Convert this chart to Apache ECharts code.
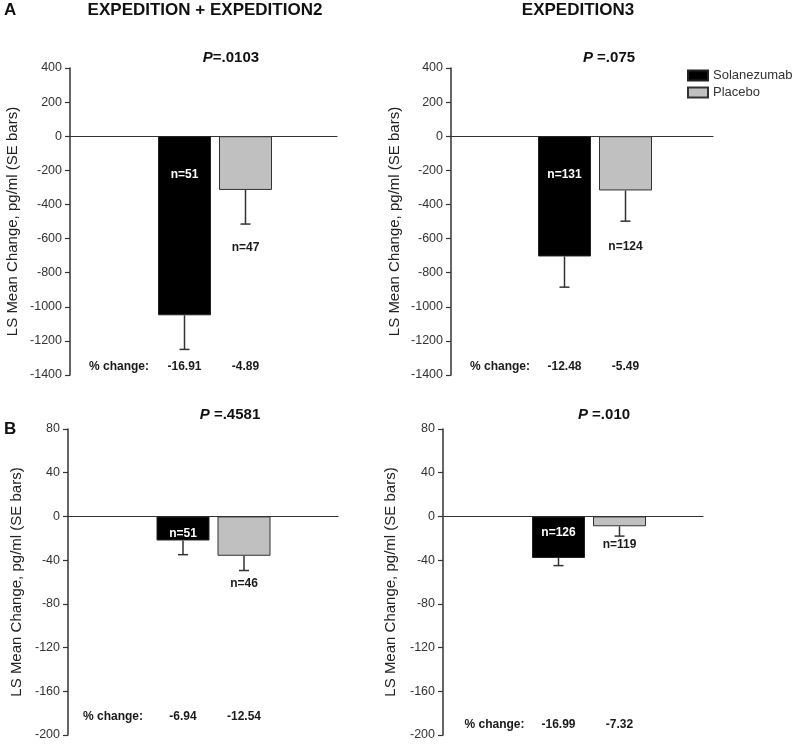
<!DOCTYPE html>
<html><head><meta charset="utf-8">
<script src="https://cdn.jsdelivr.net/npm/echarts@6/dist/echarts.min.js"></script>
<style>html,body{margin:0;padding:0;background:#fff}#c{width:797px;height:745px}</style>
</head><body><div id="c"></div>
<script>
// ---------- data ----------
const categories = ['Solanezumab', 'Placebo'];
const sectionTitles = ['EXPEDITION + EXPEDITION2', 'EXPEDITION3'];
const panelLetters = ['A', 'B'];
const yAxisName = 'LS Mean Change, pg/ml (SE bars)';
const ticksA = [-1400, -1200, -1000, -800, -600, -400, -200, 0, 200, 400];
const ticksB = [-200, -160, -120, -80, -40, 0, 40, 80];
const pctHeader = '% change:';

// Panel A, EXPEDITION + EXPEDITION2
const meansA1 = [-1050, -315];
const seA1 = [200, 200];
const nA1 = [51, 47];
const pctA1 = ['-16.91', '-4.89'];
const pA1 = '=.0103';
// Panel A, EXPEDITION3
const meansA2 = [-705, -318];
const seA2 = [180, 180];
const nA2 = [131, 124];
const pctA2 = ['-12.48', '-5.49'];
const pA2 = ' =.075';
// Panel B, EXPEDITION + EXPEDITION2
const meansB1 = [-22, -36];
const seB1 = [13, 13.5];
const nB1 = [51, 46];
const pctB1 = ['-6.94', '-12.54'];
const pB1 = ' =.4581';
// Panel B, EXPEDITION3
const meansB2 = [-38, -9];
const seB2 = [7, 9];
const nB2 = [126, 119];
const pctB2 = ['-16.99', '-7.32'];
const pB2 = ' =.010';

// ---------- layout / style ----------
const FONT = '"Liberation Sans", Arial, Helvetica, sans-serif';
const panels = [
  {ticks: ticksA, means: meansA1, se: seA1, n: nA1, pct: pctA1, p: pA1,
   axisX: 70, zeroEnd: 337, top: 68, bottom: 375, barLeft: 154, nameGap: 50,
   nIn: 38, nBelow: 24, pctUp: 8, headerX: 119, pX: 231, pY: 50},
  {ticks: ticksA, means: meansA2, se: seA2, n: nA2, pct: pctA2, p: pA2,
   axisX: 451, zeroEnd: 713, top: 68, bottom: 375, barLeft: 534, nameGap: 49,
   nIn: 38, nBelow: 26, pctUp: 8, headerX: 500, pX: 609, pY: 50},
  {ticks: ticksB, means: meansB1, se: seB1, n: nB1, pct: pctB1, p: pB1,
   axisX: 68, zeroEnd: 338, top: 429, bottom: 735, barLeft: 152.5, nameGap: 44,
   nIn: 17, nBelow: 13, pctUp: 18, headerX: 113, pX: 230, pY: 407},
  {ticks: ticksB, means: meansB2, se: seB2, n: nB2, pct: pctB2, p: pB2,
   axisX: 443, zeroEnd: 703, top: 429, bottom: 735, barLeft: 528, nameGap: 45,
   nIn: 16, nBelow: 9, pctUp: 10, headerX: 494.5, pX: 604, pY: 407}
];
const BAR_W = 53, CAT_W = 61;

const grid = [], xAxis = [], yAxis = [], series = [], title = [], graphic = [];

title.push({text: panelLetters[0], left: 4, top: 2, padding: 0,
  textStyle: {fontSize: 17, fontWeight: 'bold', color: '#111', fontFamily: FONT}});
title.push({text: panelLetters[1], left: 4, top: 421, padding: 0,
  textStyle: {fontSize: 17, fontWeight: 'bold', color: '#111', fontFamily: FONT}});
title.push({text: sectionTitles[0], left: 205, top: 2, padding: 0, textAlign: 'center',
  textStyle: {fontSize: 17, fontWeight: 'bold', color: '#111', fontFamily: FONT}});
title.push({text: sectionTitles[1], left: 578, top: 2, padding: 0, textAlign: 'center',
  textStyle: {fontSize: 17, fontWeight: 'bold', color: '#111', fontFamily: FONT}});

panels.forEach((L, i) => {
  const yMin = L.ticks[0], yMax = L.ticks[L.ticks.length - 1];
  const interval = L.ticks[1] - L.ticks[0];
  const h = L.bottom - L.top;
  // frame grid (axis + zero line)
  grid.push({left: L.axisX, top: L.top, width: L.zeroEnd - L.axisX, height: h});
  // bars grid
  grid.push({left: L.barLeft, top: L.top, width: CAT_W * categories.length, height: h});
  xAxis.push({gridIndex: 2 * i, type: 'category', data: [''],
    axisLine: {show: true, onZero: true, lineStyle: {color: '#333', width: 1.2}},
    axisTick: {show: false}, axisLabel: {show: false}, splitLine: {show: false}});
  xAxis.push({gridIndex: 2 * i + 1, type: 'category', data: categories, show: false});
  yAxis.push({gridIndex: 2 * i, type: 'value', min: yMin, max: yMax, interval: interval,
    name: yAxisName, nameLocation: 'middle', nameGap: L.nameGap,
    nameTextStyle: {fontSize: 15, color: '#222', fontFamily: FONT},
    axisLine: {show: true, lineStyle: {color: '#333', width: 1.5}},
    axisTick: {show: true, length: 5, lineStyle: {color: '#333', width: 1.2}},
    axisLabel: {fontSize: 12.5, color: '#333', margin: 8, fontFamily: FONT,
      formatter: v => String(v)},
    splitLine: {show: false}});
  yAxis.push({gridIndex: 2 * i + 1, type: 'value', min: yMin, max: yMax, show: false});

  series.push({name: categories[0], type: 'bar', xAxisIndex: 2 * i + 1, yAxisIndex: 2 * i + 1,
    data: [L.means[0], '-'], barWidth: BAR_W, barGap: '-100%', z: 2,
    itemStyle: {color: '#000', borderColor: '#222', borderWidth: 1}});
  series.push({name: categories[1], type: 'bar', xAxisIndex: 2 * i + 1, yAxisIndex: 2 * i + 1,
    data: ['-', L.means[1]], barWidth: BAR_W, barGap: '-100%', z: 2,
    itemStyle: {color: '#c0c0c0', borderColor: '#333', borderWidth: 1}});
  series.push({type: 'custom', xAxisIndex: 2 * i + 1, yAxisIndex: 2 * i + 1, z: 5,
    silent: true,
    data: L.means.map((m, k) => [k, m, L.se[k]]),
    renderItem: function (params, api) {
      const k = api.value(0), m = api.value(1), se = api.value(2);
      const p0 = api.coord([k, m]);
      const p1 = api.coord([k, m - se]);
      const z0 = api.coord([k, 0]);
      const bot = api.coord([k, yMin]);
      const ls = {stroke: '#333', lineWidth: 1.5};
      const inside = k === 0;
      return {type: 'group', children: [
        {type: 'line', shape: {x1: p0[0], y1: p0[1], x2: p1[0], y2: p1[1]}, style: ls},
        {type: 'line', shape: {x1: p1[0] - 5, y1: p1[1], x2: p1[0] + 5, y2: p1[1]}, style: ls},
        {type: 'text', x: p0[0], y: inside ? z0[1] + L.nIn : p1[1] + L.nBelow,
          style: {text: 'n=' + L.n[k], fill: inside ? '#fff' : '#1a1a1a',
            fontSize: 12, fontWeight: 'bold', fontFamily: FONT, align: 'center', verticalAlign: 'middle'}},
        {type: 'text', x: p0[0], y: bot[1] - L.pctUp,
          style: {text: L.pct[params.dataIndex], fill: '#1a1a1a',
            fontSize: 12, fontWeight: 'bold', fontFamily: FONT, align: 'center', verticalAlign: 'middle'}}
      ]};
    }});

  title.push({text: '{i|P}{b|' + L.p + '}', left: L.pX, top: L.pY, padding: 0, textAlign: 'center',
    textStyle: {rich: {
      i: {fontSize: 15, fontWeight: 'bold', fontStyle: 'italic', color: '#111', fontFamily: FONT},
      b: {fontSize: 15, fontWeight: 'bold', color: '#111', fontFamily: FONT}}}});

  graphic.push({type: 'text', x: L.headerX, y: L.bottom - L.pctUp,
    style: {text: pctHeader, fill: '#1a1a1a', fontSize: 12, fontWeight: 'bold', fontFamily: FONT,
      align: 'center', verticalAlign: 'middle'}});
});

const chart = echarts.init(document.getElementById('c'), null, {renderer: 'canvas'});
chart.setOption({
  animation: false,
  backgroundColor: '#fff',
  textStyle: {fontFamily: FONT},
  title: title,
  legend: {orient: 'vertical', left: 687, top: 69, padding: 0, itemWidth: 20, itemHeight: 10, itemGap: 4,
    icon: 'rect', data: categories, selectedMode: false,
    textStyle: {fontSize: 13, color: '#333', fontFamily: FONT}},
  grid: grid,
  xAxis: xAxis,
  yAxis: yAxis,
  series: series,
  graphic: graphic
});
</script></body></html>
